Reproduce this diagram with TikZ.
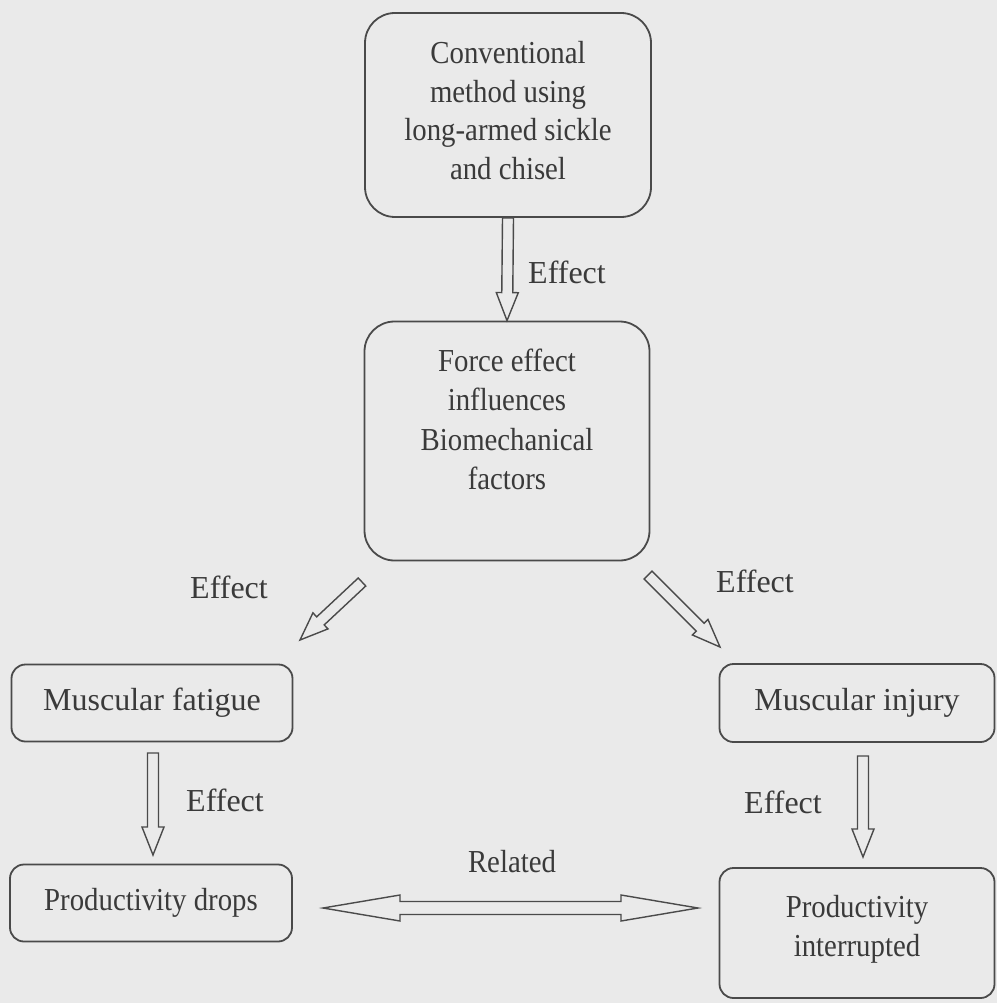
\documentclass[tikz,border=0pt]{standalone}
\usepackage{fontspec}
\setmainfont{Liberation Serif}
\newfontfamily\condfont[FakeStretch=0.9]{Liberation Serif}
\usetikzlibrary{calc}
\definecolor{bg}{HTML}{EAEAEA}
\definecolor{ink}{HTML}{4A4A4A}
\definecolor{txt}{HTML}{3A3A3A}
\begin{document}
\begin{tikzpicture}[x=1pt,y=-1pt,
  box/.style={draw=ink, line width=1.8pt, text=txt, align=center,
    font=\condfont\fontsize{32}{39.5}\selectfont, inner sep=0pt},
  bigbox/.style={box, rounded corners=30pt},
  smallbox/.style={box, rounded corners=14pt},
  widebox/.style={smallbox, font=\fontsize{32}{40}\selectfont},
  lbl/.style={text=txt, font=\fontsize{32}{40}\selectfont, inner sep=0pt},
  harrow/.style={draw=ink, line width=1.4pt, to path={
    let \p1=(\tikztostart), \p2=(\tikztotarget), \p3=($(\p2)!28pt!(\p1)$) in
    ($(\p1)!5.5pt!90:(\p2)$) -- ($(\p3)!5.5pt!90:(\p2)$) -- ($(\p3)!11pt!90:(\p2)$)
    -- (\p2) -- ($(\p3)!11pt!-90:(\p2)$) -- ($(\p3)!5.5pt!-90:(\p2)$)
    -- ($(\p1)!5.5pt!-90:(\p2)$) -- cycle}},
  darrow/.style={draw=ink, line width=1.4pt, to path={
    let \p1=(\tikztostart), \p2=(\tikztotarget),
        \p3=($(\p2)!77pt!(\p1)$), \p4=($(\p1)!77pt!(\p2)$) in
    (\p1) -- ($(\p4)!13pt!90:(\p2)$) -- ($(\p4)!6.5pt!90:(\p2)$)
    -- ($(\p3)!6.5pt!90:(\p2)$) -- ($(\p3)!13pt!90:(\p2)$) -- (\p2)
    -- ($(\p3)!13pt!-90:(\p2)$) -- ($(\p3)!6.5pt!-90:(\p2)$)
    -- ($(\p4)!6.5pt!-90:(\p2)$) -- ($(\p4)!13pt!-90:(\p2)$) -- cycle}}
]
\fill[bg] (0,0) rectangle (997,1003);
\useasboundingbox (0,0) rectangle (997,1003);

\node[bigbox, minimum width=286pt, minimum height=204pt, text depth=9pt,
  font=\condfont\fontsize{32}{38.5}\selectfont] (b1) at (508,115)
  {Conventional\\method using\\long-armed sickle\\and chisel};
\node[bigbox, minimum width=285pt, minimum height=239pt, text depth=44pt] (b2) at (507,441)
  {Force effect\\influences\\Biomechanical\\factors};
\node[widebox, minimum width=281pt, minimum height=77pt] (fat) at (152,703) {Muscular fatigue};
\node[widebox, minimum width=275pt, minimum height=78pt] (inj) at (857,703) {Muscular injury};
\node[smallbox, minimum width=282pt, minimum height=77pt] (pd) at (151,903) {Productivity drops};
\node[smallbox, minimum width=275pt, minimum height=130pt, text depth=14pt] (pi) at (857,933) {Productivity\\interrupted};

\coordinate (e1s) at (362,582); \coordinate (e1t) at (300,640);
\coordinate (e2s) at (648,575); \coordinate (e2t) at (720,647);
\coordinate (e3s) at (153,753); \coordinate (e3t) at (153,855);
\coordinate (e4s) at (863,756); \coordinate (e4t) at (863,857);
\coordinate (rs) at (323,908); \coordinate (rt) at (698,908);

\draw[harrow] (b1.south) to (b2.north);
\draw[harrow] (e1s) to (e1t);
\draw[harrow] (e2s) to (e2t);
\draw[harrow] (e3s) to (e3t);
\draw[harrow] (e4s) to (e4t);
\draw[darrow] (rs) to (rt);

\node[lbl] (l0) at (567,272) {Effect};
\node[lbl] (l1) at (229,587) {Effect};
\node[lbl] (l2) at (755,581) {Effect};
\node[lbl] (l3) at (225,800) {Effect};
\node[lbl] (l4) at (783,802) {Effect};
\node[lbl, font=\condfont\fontsize{32}{40}\selectfont] (l5) at (512,862) {Related};
\end{tikzpicture}
\end{document}
